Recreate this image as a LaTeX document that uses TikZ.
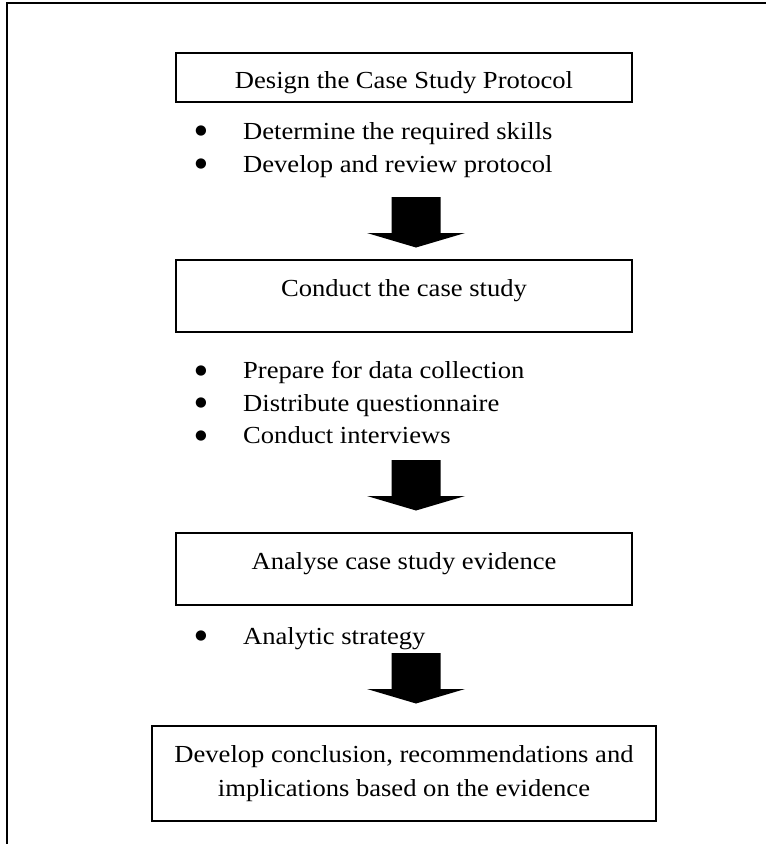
\documentclass[tikz,border=0pt]{standalone}
\usepackage{fontspec}
\setmainfont{Liberation Serif}[FakeStretch=1.085]
\newfontfamily\symfont{DejaVu Sans}
\usetikzlibrary{positioning}

% fat down arrow, #1 = top centre of the shaft
\newcommand{\blockarrow}[1]{%
  \fill (#1) ++(-24.5,0) -- ++(49,0) -- ++(0,36) -- ++(24.5,0)
    -- ++(-49,14.5) -- ++(-49,-14.5) -- ++(24.5,0) -- cycle;}

\begin{document}
\begin{tikzpicture}[x=1pt,y=-1pt,
        every node/.style={font=\fontsize{24.5}{34}\selectfont},
        stage/.style={rectangle,draw,line width=1.8pt,inner sep=0pt,minimum width=456pt},
        item/.style={anchor=base west,inner sep=0pt},
        dot/.style={anchor=base,inner sep=0pt,font=\symfont\fontsize{13.5}{13.5}\selectfont}
      ]
      \useasboundingbox (0,0) rectangle (766,844);

      % Frame (top and left only)
      \draw[line width=2pt] (7,844) -- (7,3) -- (766,3);

      % Stage 1
      \node[stage,minimum height=49pt,text height=21pt,text depth=0pt] (design) at (404,77.5) {Design the Case Study Protocol};
      \foreach \txt [count=\i] in {Determine the required skills, Develop and review protocol} {
        \node[item] (skill\i) at (243,106+33*\i) {\txt};
        \node[dot] (skilldot\i) at (201,101.5+33*\i) {●};
      }
      \coordinate (a1) at (416,197);
      \blockarrow{a1}

      % Stage 2
      \node[stage,minimum height=72pt,text height=21pt,text depth=21pt] (conduct) at (404,296) {Conduct the case study};
      \foreach \txt [count=\i] in {Prepare for data collection, Distribute questionnaire, Conduct interviews} {
        \node[item] (task\i) at (243,346+32.5*\i) {\txt};
        \node[dot] (taskdot\i) at (201,341.5+32.5*\i) {●};
      }
      \coordinate (a2) at (416,460);
      \blockarrow{a2}

      % Stage 3
      \node[stage,minimum height=72pt,text height=21pt,text depth=21pt] (analyse) at (404,569) {Analyse case study evidence};
      \node[item] (strategy) at (243,644) {Analytic strategy};
      \node[dot] (strategydot) at (201,639.5) {●};
      \coordinate (a3) at (416,653);
      \blockarrow{a3}

      % Stage 4
      \node[stage,minimum width=504pt,minimum height=95pt,align=center] (conclude) at (404,773.5)
        {Develop conclusion, recommendations and\\implications based on the evidence};
    \end{tikzpicture}
\end{document}
